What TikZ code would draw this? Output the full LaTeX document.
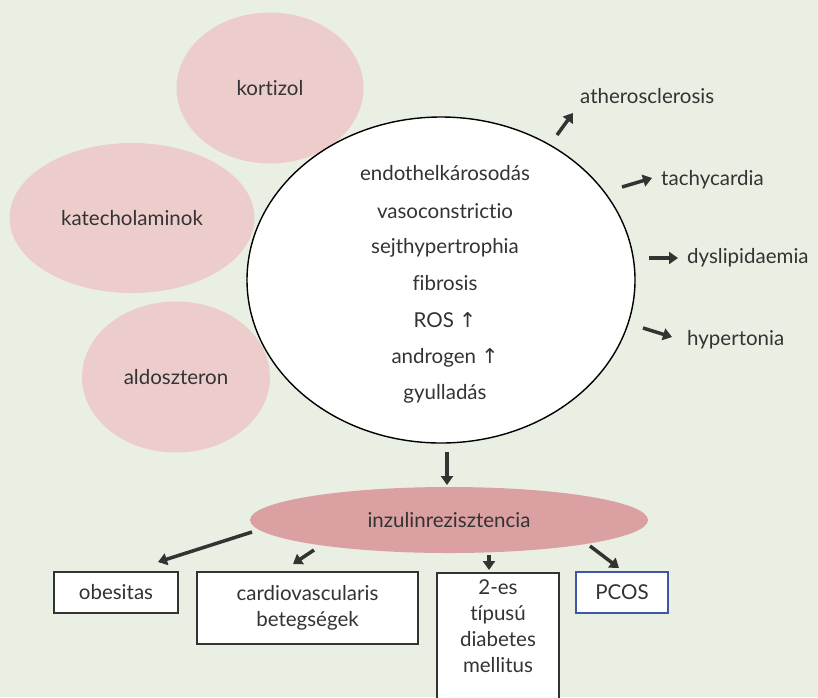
\documentclass[tikz,border=0pt]{standalone}
\usepackage{fontspec}
\setmainfont{Lato}[Ligatures=NoCommon]
\newfontfamily\symf{DejaVu Sans}
\usetikzlibrary{arrows.meta,shapes.geometric}
\definecolor{bgc}{HTML}{E9EFE3}
\definecolor{pinkl}{HTML}{ECCDCB}
\definecolor{pinkd}{HTML}{DBA0A2}
\definecolor{txt}{HTML}{333333}
\definecolor{pcosb}{HTML}{3F55A8}
\begin{document}
\begin{tikzpicture}[x=1pt,y=-1pt,
  every node/.style={text=txt,font=\fontsize{20.5}{26}\selectfont},
  blob/.style={ellipse,fill=pinkl,draw=none,inner sep=0pt},
  outbox/.style={draw=txt,line width=2pt,fill=white,inner sep=0pt,align=center},
  lbl/.style={anchor=west,inner sep=0pt},
  arr/.style={draw=txt,line width=3.5pt,-{Triangle[length=9pt,width=12pt]},shorten >=0pt}
]
\fill[bgc] (0,0) rectangle (818,697);
\useasboundingbox (0,0) rectangle (818,697);
\node[blob,minimum width=187pt,minimum height=151pt] (kort) at (270,88) {kortizol};
\node[blob,minimum width=245pt,minimum height=150pt] (kat) at (132,218) {katecholaminok};
\node[blob,minimum width=188pt,minimum height=151pt] (aldo) at (176,377) {aldoszteron};
\node[ellipse,draw=black,line width=1.4pt,fill=white,minimum width=388pt,minimum height=326pt] (big) at (441,280) {};
\foreach \t/\y [count=\i] in {endothelkárosodás/173,vasoconstrictio/211,sejthypertrophia/246,fibrosis/283,{ROS {\symf ↑}}/320,{androgen {\symf ↑}}/356,gyulladás/392}
  \node[anchor=base,yshift=-7pt] (m\i) at (445,\y) {\t};
\node[ellipse,fill=pinkd,minimum width=398pt,minimum height=66pt,inner sep=0pt] (ir) at (449,520) {inzulinrezisztencia};
\node[outbox,minimum width=124pt,minimum height=41pt] (obe) at (116,592.5) {obesitas};
\node[outbox,minimum width=221pt,minimum height=72pt] (cvd) at (307.5,608) {cardiovascularis\\betegségek};
\node[outbox,anchor=north,minimum width=122pt,minimum height=140pt,text depth=0pt] (dm) at (498,572) {};
\node[align=center,anchor=north] (dmt) at (498,576) {2-es\\típusú\\diabetes\\mellitus};
\node[draw=pcosb,line width=2pt,fill=white,minimum width=92pt,minimum height=41pt,inner sep=0pt] (pcos) at (622,592.5) {PCOS};
\node[lbl] (ath) at (580,96) {atherosclerosis};
\node[lbl] (tach) at (661,180) {tachycardia};
\node[lbl] (dys) at (687,258) {dyslipidaemia};
\node[lbl] (hyp) at (687,340) {hypertonia};
\coordinate (a1s) at (557,135); \coordinate (a1e) at (573,113);
\coordinate (a2s) at (622,187); \coordinate (a2e) at (652,178);
\coordinate (a3s) at (649,258); \coordinate (a3e) at (678,258);
\coordinate (a4s) at (643,328); \coordinate (a4e) at (672,337);
\draw[arr] (a1s) -- (a1e);
\draw[arr] (a2s) -- (a2e);
\draw[arr] (a3s) -- (a3e);
\draw[arr] (a4s) -- (a4e);
\coordinate (b0s) at (447,452); \coordinate (b0e) at (447,485);
\draw[arr] (b0s) -- (b0e);
\coordinate (b1s) at (252,532); \coordinate (b1e) at (158,562);
\coordinate (b2s) at (314,550); \coordinate (b2e) at (293,564);
\coordinate (b3s) at (489,555); \coordinate (b3e) at (489,570);
\coordinate (b4s) at (590,546); \coordinate (b4e) at (619,568);
\draw[arr] (b1s) -- (b1e);
\draw[arr] (b2s) -- (b2e);
\draw[arr] (b3s) -- (b3e);
\draw[arr] (b4s) -- (b4e);
\end{tikzpicture}
\end{document}
